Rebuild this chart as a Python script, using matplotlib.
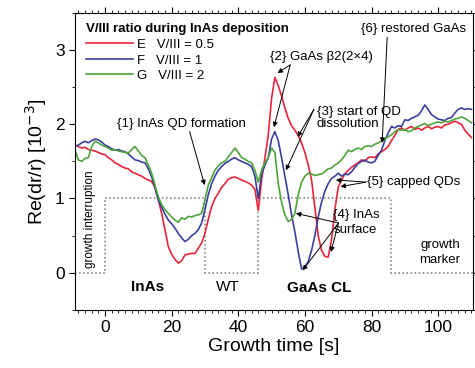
import numpy as np
import matplotlib
matplotlib.use("Agg")
import matplotlib.pyplot as plt

plt.rcParams['font.family'] = ['Liberation Sans', 'DejaVu Sans']

# growth time [s], one sample per second
t = np.arange(-9, 111)

E_red = [1.72, 1.70, 1.68, 1.69, 1.66, 1.65, 1.64, 1.62, 1.60, 1.59,
         1.55, 1.52, 1.48, 1.46, 1.43, 1.41, 1.40, 1.36, 1.34, 1.32,
         1.30, 1.27, 1.25, 1.23, 1.15, 0.98, 0.80, 0.58, 0.35, 0.25,
         0.18, 0.13, 0.16, 0.24, 0.25, 0.26, 0.26, 0.33, 0.40, 0.53,
         0.72, 0.89, 1.00, 1.07, 1.15, 1.20, 1.26, 1.28, 1.29, 1.27,
         1.25, 1.23, 1.21, 1.18, 1.12, 0.84, 1.25, 1.55, 1.85, 2.35,
         2.63, 2.52, 2.38, 2.22, 2.08, 1.98, 1.92, 1.85, 1.75, 1.62,
         1.45, 1.25, 0.88, 0.50, 0.30, 0.22, 0.21, 0.45, 0.85, 1.15,
         1.25, 1.33, 1.38, 1.42, 1.45, 1.48, 1.52, 1.50, 1.55, 1.56,
         1.55, 1.60, 1.63, 1.66, 1.70, 1.78, 1.85, 1.93, 1.95, 1.92,
         1.95, 1.97, 1.93, 1.95, 1.92, 1.95, 1.97, 1.94, 1.96, 1.97,
         1.95, 1.99, 2.00, 2.02, 2.04, 2.02, 2.00, 1.92, 1.87, 1.82]

F_blue = [1.70, 1.72, 1.75, 1.77, 1.75, 1.78, 1.80, 1.79, 1.76, 1.72,
          1.70, 1.67, 1.65, 1.66, 1.64, 1.63, 1.60, 1.56, 1.52, 1.51,
          1.49, 1.48, 1.40, 1.29, 1.14, 0.98, 0.88, 0.79, 0.71, 0.66,
          0.60, 0.53, 0.47, 0.42, 0.45, 0.50, 0.53, 0.58, 0.67, 0.85,
          1.05, 1.20, 1.30, 1.38, 1.43, 1.47, 1.50, 1.53, 1.55, 1.52,
          1.50, 1.48, 1.46, 1.43, 1.30, 1.00, 1.32, 1.45, 1.55, 1.80,
          1.90, 1.78, 1.55, 1.30, 1.05, 0.78, 0.55, 0.28, 0.05, 0.08,
          0.15, 0.30, 0.50, 0.75, 0.95, 1.10, 1.20, 1.27, 1.30, 1.34,
          1.30, 1.33, 1.32, 1.36, 1.42, 1.47, 1.50, 1.52, 1.49, 1.48,
          1.50, 1.58, 1.65, 1.78, 1.88, 1.97, 1.95, 1.98, 1.97, 2.06,
          2.05, 2.08, 2.10, 2.12, 2.18, 2.26, 2.20, 2.13, 2.10, 2.07,
          2.06, 2.05, 2.08, 2.09, 2.15, 2.20, 2.22, 2.20, 2.21, 2.20]

G_green = [1.65, 1.52, 1.50, 1.54, 1.55, 1.70, 1.77, 1.75, 1.72, 1.70,
           1.68, 1.65, 1.66, 1.64, 1.63, 1.62, 1.61, 1.66, 1.70, 1.64,
           1.58, 1.55, 1.45, 1.34, 1.18, 1.02, 0.92, 0.85, 0.80, 0.75,
           0.71, 0.68, 0.74, 0.72, 0.76, 0.75, 0.77, 0.78, 0.80, 0.98,
           1.18, 1.28, 1.38, 1.44, 1.48, 1.50, 1.56, 1.62, 1.68, 1.62,
           1.55, 1.53, 1.50, 1.48, 1.38, 1.22, 1.38, 1.48, 1.55, 1.68,
           1.62, 1.20, 0.95, 0.78, 0.69, 0.72, 0.80, 1.05, 1.22, 1.30,
           1.34, 1.33, 1.31, 1.32, 1.33, 1.36, 1.40, 1.41, 1.45, 1.48,
           1.52, 1.58, 1.65, 1.63, 1.66, 1.68, 1.66, 1.70, 1.71, 1.70,
           1.73, 1.75, 1.77, 1.80, 1.83, 1.86, 1.90, 1.93, 1.92, 1.93,
           1.90, 1.91, 1.95, 1.97, 1.99, 2.01, 1.98, 2.00, 2.02, 2.03,
           2.02, 2.04, 2.03, 2.05, 2.07, 2.08, 2.10, 2.08, 2.05, 2.02]

labels = ["E   V/III = 0.5", "F   V/III = 1", "G   V/III = 2"]
colors = ["#e8243c", "#3a3f9e", "#4ca43a"]

# growth marker (shutter sequence)
marker_edges = [-9, 0, 30, 46, 86, 111]
marker_levels = [0, 1, 0, 1, 0]

fig = plt.figure(figsize=(4.75, 3.68), dpi=100)
ax = fig.add_axes([0.158, 0.158, 0.838, 0.807])

for y, c, l in zip([E_red, F_blue, G_green], colors, labels):
    ax.plot(t, y, color=c, lw=1.2, label=l)
ax.stairs(marker_levels, marker_edges, color="#777777", ls=":", lw=1.1, baseline=None)

ax.set_xlim(-9, 110.5)
ax.set_ylim(-0.5, 3.5)
ax.set_xticks([0, 20, 40, 60, 80, 100])
ax.set_xticks(np.arange(-8, 111, 2), minor=True)
ax.set_yticks([0, 1, 2, 3])
ax.set_yticks([-0.5, 0.5, 1.5, 2.5, 3.5], minor=True)
ax.tick_params(which="both", direction="out", top=True, right=True, labelsize=12.5)
ax.tick_params(which="major", length=4)
ax.tick_params(which="minor", length=2.5)
ax.set_xlabel("Growth time [s]", fontsize=14, labelpad=2)
ax.set_ylabel(r"Re(dr/r) [10$^{-3}$]", fontsize=14, labelpad=4)

leg = ax.legend(loc="upper left", bbox_to_anchor=(0.0, 1.0), frameon=False,
                title="V/III ratio during InAs deposition", fontsize=9.5,
                title_fontproperties={"weight": "bold", "size": 9.5},
                handlelength=3.6, handletextpad=0.3, labelspacing=0.25,
                borderaxespad=0.4)
leg._legend_box.align = "left"

ak = dict(arrowstyle="-|>", color="k", lw=0.7, mutation_scale=7, shrinkA=0, shrinkB=0)
fs = 9.5

ax.text(23, 2.0, "{1} InAs QD formation", fontsize=fs, ha="center", va="center")
ax.annotate("", xy=(29.9, 1.18), xytext=(25.4, 1.9), arrowprops=ak)

ax.text(65, 2.9, u"{2} GaAs \u03b22(2\u00d74)", fontsize=fs, ha="center", va="center")
ax.annotate("", xy=(51.8, 2.69), xytext=(55.6, 2.8), arrowprops=ak)
ax.annotate("", xy=(50.7, 1.96), xytext=(55.6, 2.8), arrowprops=ak)

ax.text(63.5, 2.08, "{3} start of QD\ndissolution", fontsize=fs, ha="left", va="center",
        linespacing=1.0)
ax.annotate("", xy=(57.8, 1.83), xytext=(62.7, 2.2), arrowprops=ak)
ax.annotate("", xy=(54.3, 1.38), xytext=(62.7, 2.2), arrowprops=ak)

ax.text(68.5, 0.68, "{4} InAs\nsurface", fontsize=fs, ha="left", va="center",
        linespacing=1.3)
for tip in [(57.3, 0.8), (59.3, 0.03), (67.8, 0.28)]:
    ax.annotate("", xy=tip, xytext=(70.1, 0.67), arrowprops=ak)

ax.text(78.5, 1.22, "{5} capped QDs", fontsize=fs, ha="left", va="center")
ax.annotate("", xy=(69.3, 1.25), xytext=(78.3, 1.22), arrowprops=ak)
ax.annotate("", xy=(70.7, 1.16), xytext=(78.3, 1.22), arrowprops=ak)

ax.text(92.5, 3.28, "{6} restored GaAs", fontsize=fs, ha="center", va="center")
ax.annotate("", xy=(83.2, 1.75), xytext=(84.7, 3.17), arrowprops=ak)

ax.text(12.8, -0.19, "InAs", fontsize=11, weight="bold", ha="center", va="center")
ax.text(37, -0.19, "WT", fontsize=11, ha="center", va="center")
ax.text(64.4, -0.21, "GaAs CL", fontsize=11, weight="bold", ha="center", va="center")
ax.text(-4.5, 0.72, "growth interruption", fontsize=8.5, rotation=90,
        ha="center", va="center")
ax.text(100.6, 0.27, "growth\nmarker", fontsize=9.5, ha="center", va="center",
        linespacing=1.4)

fig.savefig("out.png", dpi=100)
